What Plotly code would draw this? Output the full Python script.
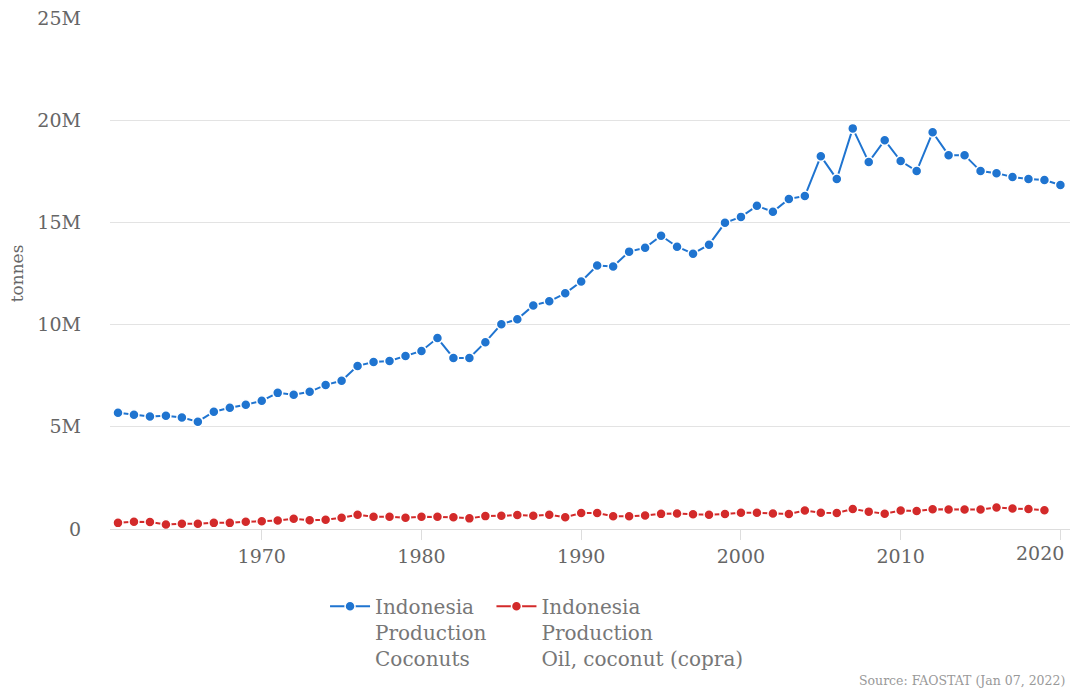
import plotly.graph_objects as go

years_coconut = list(range(1961, 2021))
years_oil = list(range(1961, 2020))

coconuts_m = [5.69, 5.59, 5.50, 5.54, 5.45, 5.25, 5.74, 5.93, 6.08, 6.27,
              6.66, 6.57, 6.71, 7.05, 7.25, 7.98, 8.17, 8.22, 8.46, 8.71,
              9.34, 8.37, 8.37, 9.14, 10.02, 10.26, 10.94, 11.14, 11.53, 12.11,
              12.89, 12.84, 13.57, 13.76, 14.35, 13.81, 13.47, 13.91, 14.98, 15.27,
              15.81, 15.52, 16.15, 16.29, 18.24, 17.12, 19.60, 17.95, 19.02, 18.00,
              17.51, 19.41, 18.29, 18.29, 17.51, 17.41, 17.22, 17.12, 17.07, 16.83]

oil_m = [0.30, 0.36, 0.34, 0.22, 0.26, 0.26, 0.30, 0.30, 0.35, 0.38,
         0.42, 0.50, 0.43, 0.45, 0.55, 0.70, 0.60, 0.60, 0.55, 0.60,
         0.60, 0.57, 0.52, 0.63, 0.65, 0.68, 0.65, 0.70, 0.58, 0.78,
         0.78, 0.62, 0.62, 0.66, 0.74, 0.76, 0.72, 0.70, 0.73, 0.80,
         0.80, 0.76, 0.73, 0.90, 0.80, 0.78, 0.98, 0.85, 0.75, 0.90,
         0.88, 0.97, 0.95, 0.95, 0.95, 1.05, 1.00, 0.98, 0.92]

x_tick_years = [1970, 1980, 1990, 2000, 2010, 2020]
x_tick_labels = ["1970", "1980", "1990", "2000", "2010", ""]
last_tick_label = "2020"

coconuts = [v * 1e6 for v in coconuts_m]
oil = [v * 1e6 for v in oil_m]

name_coconut = "Indonesia<br>Production<br>Coconuts"
name_oil = "Indonesia<br>Production<br>Oil, coconut (copra)"

font_family = "DejaVu Serif"
blue = "#1f74d0"
red = "#d32a2a"

fig = go.Figure()
fig.add_trace(go.Scatter(
    x=years_coconut, y=coconuts, name=name_coconut, mode="lines+markers",
    line=dict(color=blue, width=2),
    marker=dict(color=blue, size=10, line=dict(color="white", width=1.5)),
))
fig.add_trace(go.Scatter(
    x=years_oil, y=oil, name=name_oil, mode="lines+markers",
    line=dict(color=red, width=2),
    marker=dict(color=red, size=10, line=dict(color="white", width=1.5)),
))

fig.update_layout(
    width=1077, height=691,
    margin=dict(l=110, r=7, t=15, b=162),
    paper_bgcolor="white", plot_bgcolor="white",
    font=dict(family=font_family, color="#666666", size=19),
    showlegend=True,
    legend=dict(orientation="h", x=0.224, y=-0.113, xanchor="left", yanchor="top",
                valign="top",
                font=dict(family=font_family, size=20, color="#777777"),
                itemwidth=40, traceorder="normal"),
    xaxis=dict(range=[1960.5, 2020.6], tickvals=x_tick_years, ticktext=x_tick_labels,
               showgrid=False, zeroline=False, showline=True, linecolor="#dddddd",
               ticks="outside", ticklen=10, tickcolor="#dddddd",
               tickfont=dict(family=font_family, size=19, color="#666666")),
    yaxis=dict(range=[0, 25e6], tickvals=[0, 5e6, 10e6, 15e6, 20e6, 25e6],
               ticktext=["0", "5M", "10M", "15M", "20M", "25M"],
               showgrid=True, gridcolor="#e3e3e3", zeroline=False,
               ticks="", ticklabelstandoff=28,
               title=dict(text="tonnes", standoff=9,
                          font=dict(family=font_family, size=17, color="#666666")),
               tickfont=dict(family=font_family, size=19, color="#666666")),
)

fig.add_annotation(text=last_tick_label, xref="x", yref="paper",
                   x=x_tick_years[-1], y=-0.047, xanchor="center", yanchor="middle",
                   xshift=-20, showarrow=False,
                   font=dict(family=font_family, size=19, color="#666666"))

fig.add_annotation(text="Source: FAOSTAT (Jan 07, 2022)", xref="paper", yref="paper",
                   x=0.997, y=-0.296, xanchor="right", yanchor="middle", showarrow=False,
                   font=dict(family=font_family, size=12.5, color="#999999"))

fig.write_html("out.html", config={"displayModeBar": False},
               post_script="document.body.style.margin='0';document.body.style.overflow='hidden';")
